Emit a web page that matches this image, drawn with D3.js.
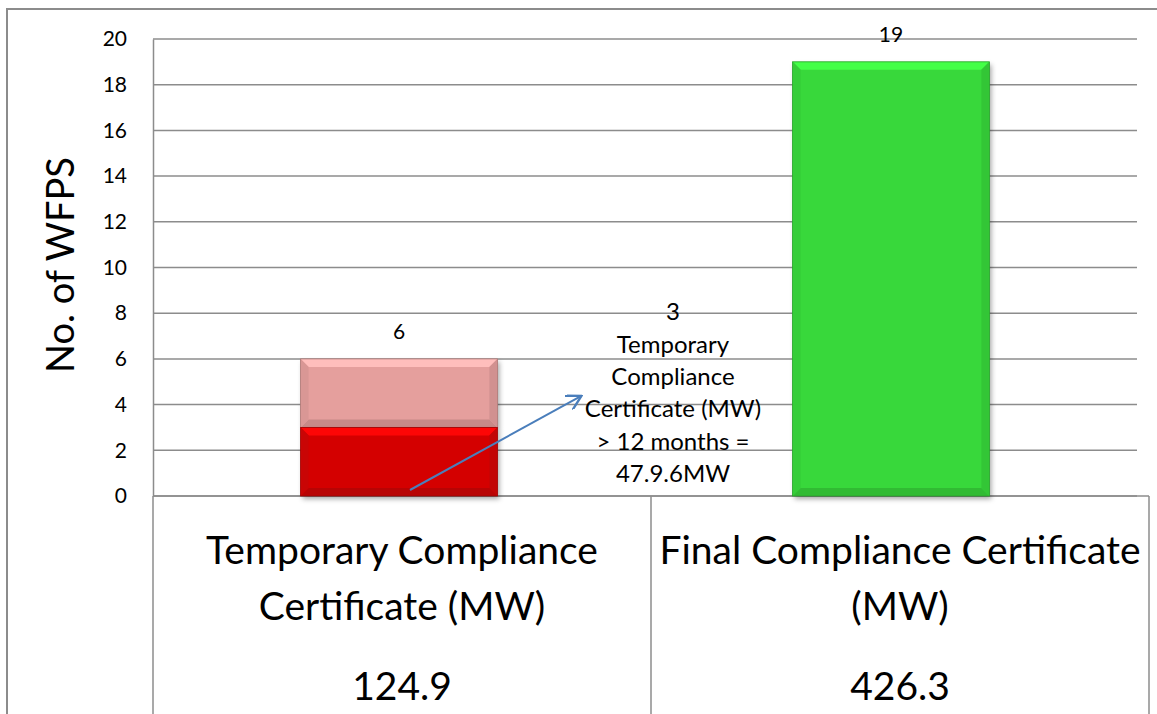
<!DOCTYPE html>
<html>
<head>
<meta charset="utf-8">
<script src="https://cdnjs.cloudflare.com/ajax/libs/d3/7.8.5/d3.min.js"></script>
<style>
  body { margin: 0; background: #fff; }
  svg text { font-family: Lato, "Open Sans", sans-serif; fill: #000; }
</style>
</head>
<body>
<div id="chart"></div>
<script>
// categories and values
const categories = ["Temporary Compliance Certificate (MW)", "Final Compliance Certificate (MW)"];
const categoryLines = [["Temporary Compliance", "Certificate (MW)"], ["Final Compliance Certificate", "(MW)"]];
const capacityMW = ["124.9", "426.3"];
const baseValues = [3, 19];      // lower segment
const over12Values = [3, 0];     // upper segment (> 12 months)
const totals = [6, 19];
const baseColors = ["#d40505", "#38d83b"];
const over12Color = "#e59f9d";
const yTicks = [0, 2, 4, 6, 8, 10, 12, 14, 16, 18, 20];
const noteLines = ["3", "Temporary", "Compliance", "Certificate (MW)", "> 12 months =", "47.9.6MW"];

var W = 1157, H = 714;
var margin = {top: 39, left: 153, right: 20, bottom: 217};
var plotW = W - margin.left - margin.right,
    plotH = H - margin.top - margin.bottom;

var svg = d3.select("#chart").append("svg")
    .attr("width", W).attr("height", H);

var defs = svg.append("defs");
var f = defs.append("filter").attr("id", "shadow")
    .attr("x", "-10%").attr("y", "-10%").attr("width", "130%").attr("height", "130%");
f.append("feDropShadow").attr("dx", 2).attr("dy", 3).attr("stdDeviation", 2.5)
    .attr("flood-color", "#000").attr("flood-opacity", 0.35);
var mk = defs.append("marker").attr("id", "arrow")
    .attr("viewBox", "0 0 10 10").attr("refX", 8).attr("refY", 5)
    .attr("markerWidth", 8).attr("markerHeight", 8).attr("orient", "auto");
mk.append("path").attr("d", "M0,0 L9,5 L0,10").attr("fill", "none")
    .attr("stroke", "#4a7ebb").attr("stroke-width", 1.5);

// outer frame
svg.append("path").attr("d", "M7," + H + " L7,9 L" + W + ",9")
    .attr("fill", "none").attr("stroke", "#8c8c8c").attr("stroke-width", 2);

var g = svg.append("g").attr("transform", "translate(" + margin.left + "," + margin.top + ")");

var x = d3.scaleBand().domain(d3.range(categories.length)).range([0, plotW]).paddingInner(0).paddingOuter(0);
var y = d3.scaleLinear().domain([0, 20]).range([plotH - 1, 0]);

// gridlines
g.selectAll(".grid").data(yTicks).enter().append("line")
    .attr("x1", 0).attr("x2", plotW)
    .attr("y1", d => y(d)).attr("y2", d => y(d))
    .attr("stroke", "#8c8c8c").attr("stroke-width", 1.5);

// y axis
var yAxis = g.append("g").call(d3.axisLeft(y).tickValues(yTicks).tickSize(0).tickPadding(26));
yAxis.select(".domain").attr("stroke", "#8c8c8c").attr("stroke-width", 1.5);
yAxis.selectAll("text").style("font-size", "21px").style("font-family", "Lato, sans-serif");

svg.append("text")
    .attr("transform", "translate(64," + (margin.top + plotH / 2 - 3) + ") rotate(-90)")
    .attr("text-anchor", "middle").attr("dominant-baseline", "middle")
    .style("font-size", "38px").text("No. of WFPS");

// table under the axis
var tableX = [0, x.step() + 6, 2 * x.step() + 12];
g.selectAll(".tcol").data(tableX).enter().append("line")
    .attr("x1", d => d).attr("x2", d => d)
    .attr("y1", plotH - 1).attr("y2", H - margin.top)
    .attr("stroke", "#8c8c8c").attr("stroke-width", 1.5);
g.append("line").attr("x1", 0).attr("x2", tableX[2])
    .attr("y1", plotH - 1).attr("y2", plotH - 1)
    .attr("stroke", "#8c8c8c").attr("stroke-width", 1.5);

// bars with bevel
var barW = x.bandwidth() * 0.4;
function bevelBar(px, top, bottom, color) {
    var b = Math.min(8, (bottom - top) / 3);
    var grp = g.append("g");
    grp.append("rect").attr("x", px).attr("y", top).attr("width", barW).attr("height", bottom - top)
        .attr("fill", color).attr("filter", "url(#shadow)");
    var c = d3.color(color);
    grp.append("path")
        .attr("d", `M${px},${top} L${px + barW},${top} L${px + barW - b},${top + b} L${px + b},${top + b}Z`)
        .attr("fill", c.brighter(0.5));
    grp.append("path")
        .attr("d", `M${px},${bottom} L${px + barW},${bottom} L${px + barW - b},${bottom - b} L${px + b},${bottom - b}Z`)
        .attr("fill", c.darker(0.4));
    grp.append("path")
        .attr("d", `M${px},${top} L${px + b},${top + b} L${px + b},${bottom - b} L${px},${bottom}Z`)
        .attr("fill", c.darker(0.15));
    grp.append("path")
        .attr("d", `M${px + barW},${top} L${px + barW - b},${top + b} L${px + barW - b},${bottom - b} L${px + barW},${bottom}Z`)
        .attr("fill", c.darker(0.25));
    grp.append("rect").attr("x", px).attr("y", top).attr("width", barW).attr("height", bottom - top)
        .attr("fill", "none").attr("stroke", c.darker(0.8)).attr("stroke-width", 0.8);
}

categories.forEach(function (cat, i) {
    var px = x(i) + (x.bandwidth() - barW) / 2;
    if (over12Values[i] > 0) {
        bevelBar(px, y(baseValues[i] + over12Values[i]), y(baseValues[i]), over12Color);
    }
    bevelBar(px, y(baseValues[i]), y(0), baseColors[i]);
});

// total labels
g.selectAll(".total").data(totals).enter().append("text")
    .attr("x", (d, i) => x(i) + x.bandwidth() / 2)
    .attr("y", d => y(d) - 25)
    .attr("text-anchor", "middle").attr("dominant-baseline", "middle")
    .style("font-size", "21px").text(d => d);

// note next to the first bar
var noteX = x(0) + x.bandwidth() + 28;
g.selectAll(".note").data(noteLines).enter().append("text")
    .attr("x", noteX)
    .attr("y", (d, i) => y(8) + 1 + i * 32.4)
    .attr("text-anchor", "middle").attr("dominant-baseline", "middle")
    .style("font-size", "24px").text(d => d);

// arrow from the dark red segment to the note
g.append("line")
    .attr("x1", x(0) + x.bandwidth() / 2 + 11).attr("y1", y(0) - 6)
    .attr("x2", x(0) + x.bandwidth() / 2 + 181).attr("y2", y(4) - 8)
    .attr("stroke", "#4a7ebb").attr("stroke-width", 2)
    .attr("marker-end", "url(#arrow)");

// category labels and capacities
categories.forEach(function (cat, i) {
    var cx = (tableX[i] + tableX[i + 1]) / 2;
    categoryLines[i].forEach(function (line, j) {
        g.append("text").attr("x", cx).attr("y", plotH + 57 + j * 56)
            .attr("text-anchor", "middle").attr("dominant-baseline", "middle")
            .style("font-size", "39px").text(line);
    });
    g.append("text").attr("x", cx).attr("y", plotH + 193)
        .attr("text-anchor", "middle").attr("dominant-baseline", "middle")
        .style("font-size", "39px").text(capacityMW[i]);
});
</script>
</body>
</html>
